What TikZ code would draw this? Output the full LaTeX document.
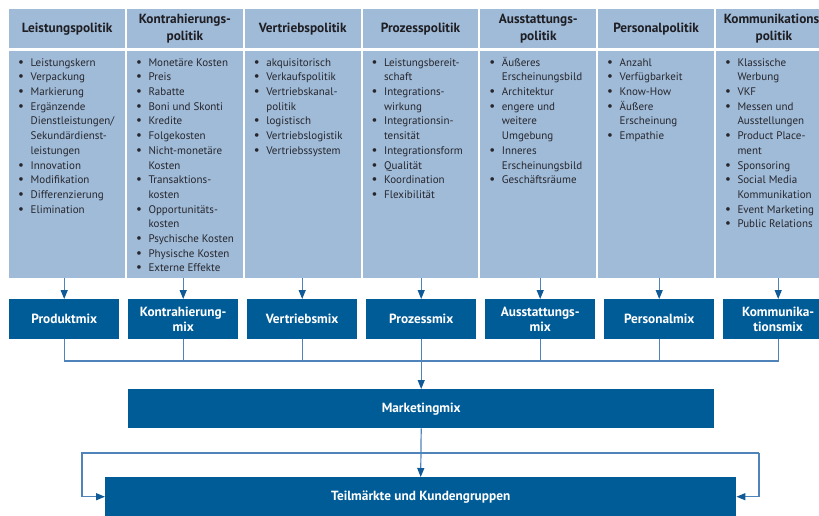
\documentclass[tikz,border=0pt]{standalone}
\usepackage{fontspec}
\setmainfont{PT Sans}
\usetikzlibrary{arrows.meta}

\definecolor{paneblue}{RGB}{160,187,216}
\definecolor{boxblue}{RGB}{0,92,151}
\definecolor{linkblue}{RGB}{78,132,186}
\definecolor{tipblue}{RGB}{16,90,152}
\definecolor{bodytext}{RGB}{38,38,44}
\definecolor{headtext}{RGB}{30,30,35}

% bullet and continuation indent for the item lists
\newcommand\itm{\makebox[12.5pt][l]{{\fontsize{13}{14.7}\selectfont\textbullet}}}
\newcommand\cnt{\hspace*{12.5pt}}

\begin{document}
\begin{tikzpicture}[x=1pt,y=-1pt,
  head/.style={fill=paneblue, minimum width=115.8pt, minimum height=39pt,
    anchor=north west, inner sep=0pt, align=center,
    font=\fontsize{13.3}{17}\selectfont\bfseries, text=headtext},
  pane/.style={fill=paneblue, minimum width=115.8pt, minimum height=227pt,
    anchor=north west, inner sep=0pt},
  items/.style={anchor=north west, inner sep=0pt, align=left,
    font=\fontsize{11}{14.7}\selectfont, text=bodytext},
  mixbox/.style={fill=boxblue, text=white, minimum width=110pt, minimum height=40pt,
    anchor=north west, inner sep=0pt, align=center,
    font=\fontsize{13.3}{14.8}\selectfont\bfseries},
  link/.style={draw=linkblue, line width=1.2pt},
  arrow/.style={link, -{Triangle[length=9pt,width=7pt,fill=tipblue,color=tipblue]}}
]
\useasboundingbox (0,0) rectangle (819,515);
\clip (0,0) rectangle (819,515);

% column headers
\node[head] (h1) at (9,9)     {Leistungspolitik};
\node[head] (h2) at (126.8,9) {Kontrahierungs-\\politik};
\node[head] (h3) at (244.6,9) {Vertriebspolitik};
\node[head] (h4) at (362.4,9) {Prozesspolitik};
\node[head] (h5) at (480.2,9) {Ausstattungs-\\politik};
\node[head] (h6) at (598,9)   {Personalpolitik};
\node[head] (h7) at (715.8,9) {Kommunikations-\\politik};

% column bodies
\node[pane] (b1) at (9,51) {};
\node[pane] (b2) at (126.8,51) {};
\node[pane] (b3) at (244.6,51) {};
\node[pane] (b4) at (362.4,51) {};
\node[pane] (b5) at (480.2,51) {};
\node[pane] (b6) at (598,51) {};
\node[pane] (b7) at (715.8,51) {};

% item lists
\node[items] (t1) at (18,55.7) {\strut\itm Leistungskern\\ \itm Verpackung\\ \itm Markierung\\
  \itm Ergänzende\\ \cnt Dienstleistungen/\\ \cnt Sekundärdienst-\\ \cnt leistungen\\
  \itm Innovation\\ \itm Modifikation\\ \itm Differenzierung\\ \itm Elimination};
\node[items] (t2) at (135.8,55.7) {\strut\itm Monetäre Kosten\\ \itm Preis\\ \itm Rabatte\\
  \itm Boni und Skonti\\ \itm Kredite\\ \itm Folgekosten\\ \itm Nicht-monetäre\\ \cnt Kosten\\
  \itm Transaktions-\\ \cnt kosten\\ \itm Opportunitäts-\\ \cnt kosten\\
  \itm Psychische Kosten\\ \itm Physische Kosten\\ \itm Externe Effekte};
\node[items] (t3) at (253.6,55.7) {\strut\itm akquisitorisch\\ \itm Verkaufspolitik\\
  \itm Vertriebskanal-\\ \cnt politik\\ \itm logistisch\\ \itm Vertriebslogistik\\
  \itm Vertriebssystem};
\node[items] (t4) at (371.4,55.7) {\strut\itm Leistungsbereit-\\ \cnt schaft\\
  \itm Integrations-\\ \cnt wirkung\\ \itm Integrationsin-\\ \cnt tensität\\
  \itm Integrationsform\\ \itm Qualität\\ \itm Koordination\\ \itm Flexibilität};
\node[items] (t5) at (489.2,55.7) {\strut\itm Äußeres\\ \cnt Erscheinungsbild\\
  \itm Architektur\\ \itm engere und\\ \cnt weitere\\ \cnt Umgebung\\ \itm Inneres\\
  \cnt Erscheinungsbild\\ \itm Geschäftsräume};
\node[items] (t6) at (607,55.7) {\strut\itm Anzahl\\ \itm Verfügbarkeit\\ \itm Know-How\\
  \itm Äußere\\ \cnt Erscheinung\\ \itm Empathie};
\node[items] (t7) at (724.8,55.7) {\strut\itm Klassische\\ \cnt Werbung\\ \itm VKF\\
  \itm Messen und\\ \cnt Ausstellungen\\ \itm Product Place-\\ \cnt ment\\ \itm Sponsoring\\
  \itm Social Media\\ \cnt Kommunikation\\ \itm Event Marketing\\ \itm Public Relations};

% mix boxes
\node[mixbox] (m1) at (9,299)   {Produktmix};
\node[mixbox] (m2) at (128,299) {Kontrahierung-\\mix};
\node[mixbox] (m3) at (247,299) {Vertriebsmix};
\node[mixbox] (m4) at (366,299) {Prozessmix};
\node[mixbox] (m5) at (485,299) {Ausstattungs-\\mix};
\node[mixbox] (m6) at (604,299) {Personalmix};
\node[mixbox] (m7) at (723,299) {Kommunika-\\tionsmix};

\node[mixbox, minimum width=586pt, minimum height=39pt] (mm) at (128,389) {Marketingmix};
\node[mixbox, minimum width=631pt, minimum height=39pt] (tk) at (105,477) {Teilmärkte und Kundengruppen};

% policy columns into their mix boxes
\foreach \i in {1,...,7}
  \draw[arrow] (m\i.north |- b\i.south) -- (m\i.north);

% collecting bus below the mix boxes
\coordinate (bus) at (421,361);
\draw[link] (m1.south) |- (m7.south |- bus) -- (m7.south);
\foreach \i in {2,3,5,6}
  \draw[link] (m\i.south) -- (m\i.south |- bus);
\draw[arrow] (m4.south) -- (mm.north);

% marketing mix to target groups, with the side feedback loop
\draw[arrow] (mm.south) -- (tk.north);
\coordinate (jl) at (82,453);
\coordinate (jr) at (759,453);
\draw[arrow] (jr) -- (jl) |- (tk.west);
\draw[arrow] (jr) |- (tk.east);
\end{tikzpicture}
\end{document}
